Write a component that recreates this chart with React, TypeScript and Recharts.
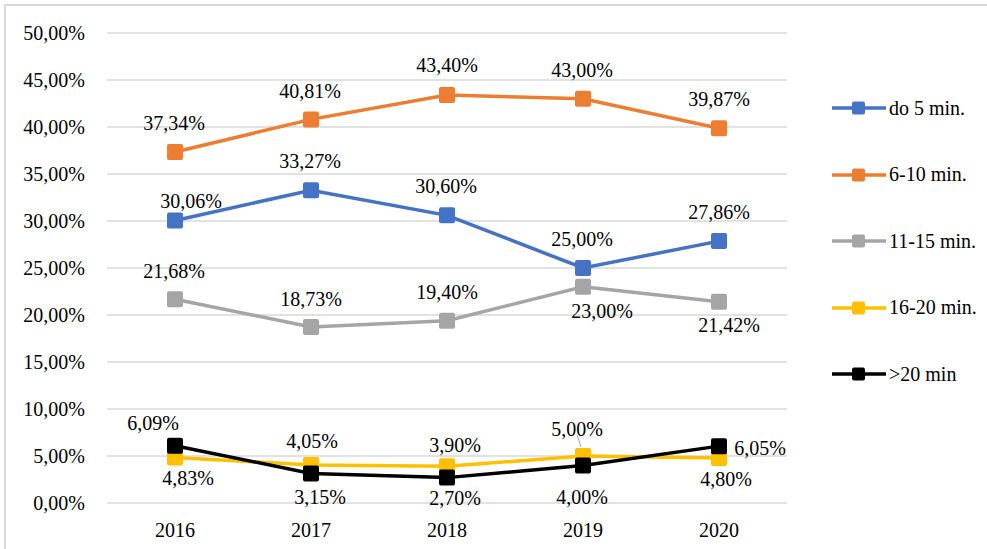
import React from 'react';
import { LineChart, Line, XAxis, YAxis, CartesianGrid, LabelList } from 'recharts';

const years = ['2016', '2017', '2018', '2019', '2020'];
const upTo5 = [30.06, 33.27, 30.6, 25.0, 27.86];
const from6to10 = [37.34, 40.81, 43.4, 43.0, 39.87];
const from11to15 = [21.68, 18.73, 19.4, 23.0, 21.42];
const from16to20 = [4.83, 4.05, 3.9, 5.0, 4.8];
const over20 = [6.09, 3.15, 2.7, 4.0, 6.05];
const yTicks = [0, 5, 10, 15, 20, 25, 30, 35, 40, 45, 50];

const data = years.map((year, i) => ({
    year,
    a: upTo5[i],
    b: from6to10[i],
    c: from11to15[i],
    d: from16to20[i],
    e: over20[i],
}));

// label offsets [dx, dy] from the marker
const labelPos: Record<string, number[][]> = {
    a: [[16, -19], [-1, -29], [-1, -29], [-1, -29], [0, -29]],
    b: [[-1, -29], [-1, -28], [0, -30], [-1, -29], [0, -29]],
    c: [[-1, -28], [0, -28], [0, -29], [19, 24], [10, 23]],
    d: [[13, 20], [1, -24], [8, -21], [-6, -27], [7, 21]],
    e: [[-22, -23], [9, 24], [8, 20], [-1, 32], [41, 2]],
};

const series = [
    { key: 'a', name: 'do 5 min.', color: '#4472C4' },
    { key: 'b', name: '6-10 min.', color: '#ED7D31' },
    { key: 'c', name: '11-15 min.', color: '#A5A5A5' },
    { key: 'd', name: '16-20 min.', color: '#FFC000' },
    { key: 'e', name: '>20 min', color: '#000000' },
];

const FONT = '"Liberation Serif", "Times New Roman", serif';
const pct = (v: number) => v.toFixed(2).replace('.', ',') + '%';

const square = (color: string) => (props: any) => (
    <rect
        key={`sq-${props.index}`}
        x={props.cx - 8}
        y={props.cy - 8}
        width={16}
        height={16}
        rx={2}
        fill={color}
    />
);

const labelFor = (key: string) => (props: any) => {
    const x = props.x ?? props.viewBox?.x;
    const y = props.y ?? props.viewBox?.y;
    const [dx, dy] = labelPos[key][props.index];
    const leader = key === 'd' && props.index === 3;
    return (
        <g key={`lb-${key}-${props.index}`}>
            {leader && <line x1={x - 6} y1={y - 21} x2={x - 2} y2={y - 9} stroke="#a5a5a5" strokeWidth={1} />}
            <text
                x={x + dx}
                y={y + dy}
                textAnchor="middle"
                dominantBaseline="central"
                fontFamily={FONT}
                fontSize={20}
                fill="#000"
            >
                {pct(props.value)}
            </text>
        </g>
    );
};

function LegendBox() {
    return (
        <div style={{ position: 'absolute', left: 832, top: 75, fontFamily: FONT, fontSize: 20, color: '#000' }}>
            {series.map((s) => (
                <div key={s.key} style={{ height: 66.5, display: 'flex', alignItems: 'center' }}>
                    <svg width={54} height={16} style={{ marginRight: 3 }}>
                        <line x1={0} y1={8} x2={54} y2={8} stroke={s.color} strokeWidth={3.5} strokeLinecap="round" />
                        <rect x={20} y={1.5} width={13} height={13} rx={2} fill={s.color} />
                    </svg>
                    <span style={{ whiteSpace: 'nowrap' }}>{s.name}</span>
                </div>
            ))}
        </div>
    );
}

export default function App() {
    return (
        <div style={{ position: 'relative', width: 987, height: 549, overflow: 'hidden', background: '#fff' }}>
            <style>{'body{margin:0}'}</style>
            <div
                style={{
                    position: 'absolute',
                    left: 4,
                    top: 4,
                    width: 1100,
                    height: 700,
                    borderLeft: '2px solid #d9d9d9',
                    borderTop: '2px solid #d9d9d9',
                }}
            />
            <LineChart
                width={987}
                height={549}
                data={data}
                margin={{ top: 33, right: 200, bottom: 0, left: 0 }}
                style={{ position: 'absolute', left: 0, top: 0 }}
            >
                <CartesianGrid vertical={false} stroke="#d9d9d9" strokeWidth={1.5} />
                <XAxis
                    dataKey="year"
                    height={46}
                    padding={{ left: 68, right: 68 }}
                    axisLine={false}
                    tickLine={false}
                    tickSize={0}
                    tickMargin={20}
                    tick={{ fontFamily: FONT, fontSize: 20, fill: '#000' }}
                />
                <YAxis
                    width={107}
                    domain={[0, 50]}
                    ticks={yTicks}
                    tickFormatter={pct}
                    axisLine={false}
                    tickLine={false}
                    tickSize={0}
                    tickMargin={22}
                    tick={{ fontFamily: FONT, fontSize: 20, fill: '#000' }}
                />
                {series.map((s) => (
                    <Line
                        key={s.key}
                        dataKey={s.key}
                        name={s.name}
                        stroke={s.color}
                        strokeWidth={3.5}
                        dot={square(s.color)}
                        activeDot={false}
                        isAnimationActive={false}
                    >
                        <LabelList dataKey={s.key} content={labelFor(s.key)} />
                    </Line>
                ))}
            </LineChart>
            <LegendBox />
        </div>
    );
}
